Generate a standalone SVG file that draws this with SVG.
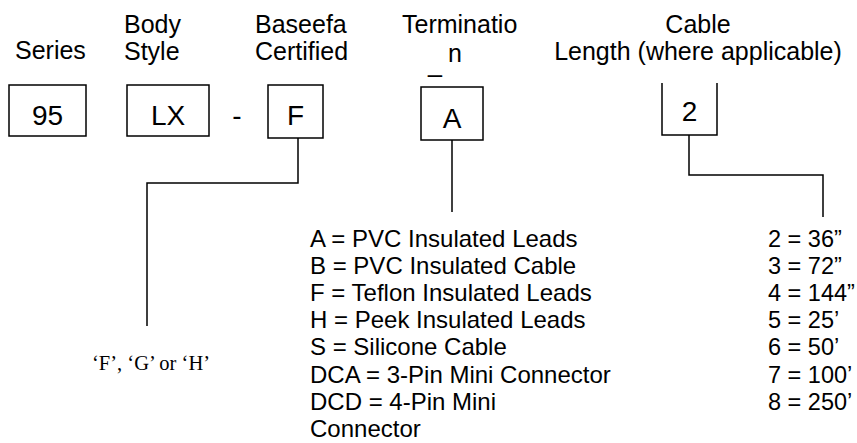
<svg xmlns="http://www.w3.org/2000/svg" width="857" height="443" viewBox="0 0 857 443">
<style>
text{font-family:"Liberation Sans",Arial,sans-serif;font-size:24px;fill:#000}
.h{font-size:25px}
.k{font-size:28px;text-anchor:middle}
.r{font-size:23.5px}
.t{font-family:"Liberation Serif","Times New Roman",serif;font-size:20.5px}
.b{fill:#fff;stroke:#000;stroke-width:1.5}
.c{fill:none;stroke:#000;stroke-width:1.5}
.m{text-anchor:middle}
</style>
<rect width="857" height="443" fill="#fff"/>
<g id="headers">
<text class="h" x="15" y="59">Series</text>
<text class="h" x="124" y="33">Body</text>
<text class="h" x="124" y="60">Style</text>
<text class="h" x="255" y="33">Baseefa</text>
<text class="h" x="255" y="60">Certified</text>
<text class="h" x="402" y="33">Terminatio</text>
<text class="h" x="448" y="62">n</text>
<text class="h" x="428" y="72">_</text>
<text class="h m" x="698" y="33">Cable</text>
<text class="h m" x="698" y="60">Length (where applicable)</text>
</g>
<g id="node-95"><rect class="b" x="9" y="85" width="77" height="51"/><text class="k" x="47.5" y="125">95</text></g>
<g id="node-LX"><rect class="b" x="127" y="85" width="82" height="51"/><text class="k" x="168" y="125">LX</text></g>
<g id="dash"><text class="k" x="237" y="125">-</text></g>
<g id="node-F"><rect class="b" x="268" y="85" width="55" height="53"/><text class="k" x="295.5" y="125">F</text></g>
<g id="node-A"><rect class="b" x="421" y="87" width="62" height="53"/><text class="k" x="452" y="128">A</text></g>
<g id="node-2"><path class="c" d="M662,83 V135 H717 V83"/><text class="k" x="689.5" y="121">2</text></g>
<g id="connectors">
<path class="c" d="M298,138 V183 H147 V326"/>
<path class="c" d="M452,140 V212"/>
<path class="c" d="M689,135 V175 H823 V217"/>
</g>
<g id="note-F">
<text class="t" x="92" y="370">‘F’, ‘G’ or ‘H’</text>
</g>
<g id="note-termination">
<text x="310" y="247">A = PVC Insulated Leads</text>
<text x="310" y="274.1">B = PVC Insulated Cable</text>
<text x="310" y="301.2">F = Teflon Insulated Leads</text>
<text x="310" y="328.3">H = Peek Insulated Leads</text>
<text x="310" y="355.4">S = Silicone Cable</text>
<text x="310" y="382.5">DCA = 3-Pin Mini Connector</text>
<text x="310" y="409.6">DCD = 4-Pin Mini</text>
<text x="310" y="436.7">Connector</text>
</g>
<g id="note-length">
<text class="r" x="768" y="247">2 = 36”</text>
<text class="r" x="768" y="274.1">3 = 72”</text>
<text class="r" x="768" y="301.2">4 = 144”</text>
<text class="r" x="768" y="328.3">5 = 25’</text>
<text class="r" x="768" y="355.4">6 = 50’</text>
<text class="r" x="768" y="382.5">7 = 100’</text>
<text class="r" x="768" y="409.6">8 = 250’</text>
</g>
</svg>
